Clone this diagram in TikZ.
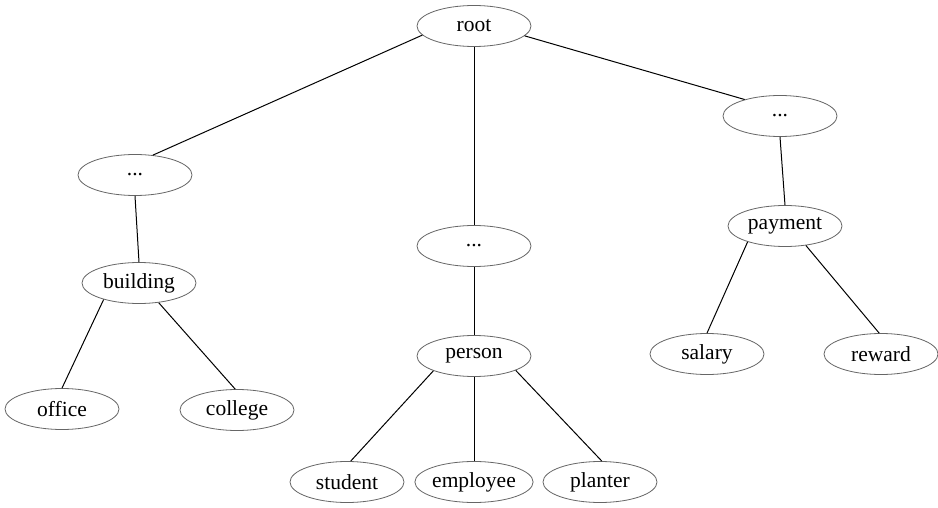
\documentclass[tikz,border=0pt]{standalone}
\usepackage{fontspec}
\setmainfont{Liberation Serif}
\usetikzlibrary{shapes.geometric}
\begin{document}
\begin{tikzpicture}[x=1pt,y=-1pt,
  tnode/.style={ellipse,draw=black!60,line width=0.8pt,minimum width=114pt,minimum height=41pt,inner sep=0pt,font=\fontsize{21.5}{25}\selectfont},
  tedge/.style={draw=black,line width=1pt}]
\useasboundingbox (0,0) rectangle (938,508);
\node[tnode] (root) at (474,26) {root};
\node[tnode] (d1) at (135,175) {...};
\node[tnode] (d2) at (474,246) {...};
\node[tnode] (d3) at (780,116) {...};
\node[tnode] (building) at (139,283) {building};
\node[tnode] (person) at (474,356) {person};
\node[tnode] (payment) at (785,226) {payment};
\node[tnode] (office) at (62,409) {office};
\node[tnode] (college) at (237,410) {college};
\node[tnode] (student) at (347,482) {student};
\node[tnode] (employee) at (474,482) {employee};
\node[tnode] (planter) at (600,482) {planter};
\node[tnode] (salary) at (707,354) {salary};
\node[tnode] (reward) at (881,354) {reward};
\draw[tedge] (root.190) -- (d1.48);
\draw[tedge] (root.south) -- (d2.north);
\draw[tedge] (root.-11) -- (d3.155);
\draw[tedge] (d1.south) -- (building.north);
\draw[tedge] (d2.south) -- (person.north);
\draw[tedge] (d3.south) -- (payment.north);
\draw[tedge] (building.205) -- (office.north);
\draw[tedge] (building.-45) -- (college.95);
\draw[tedge] (person.200) -- (student.80);
\draw[tedge] (person.south) -- (employee.north);
\draw[tedge] (person.-19) -- (planter.85);
\draw[tedge] (payment.203) -- (salary.north);
\draw[tedge] (payment.-43) -- (reward.95);
\end{tikzpicture}
\end{document}
